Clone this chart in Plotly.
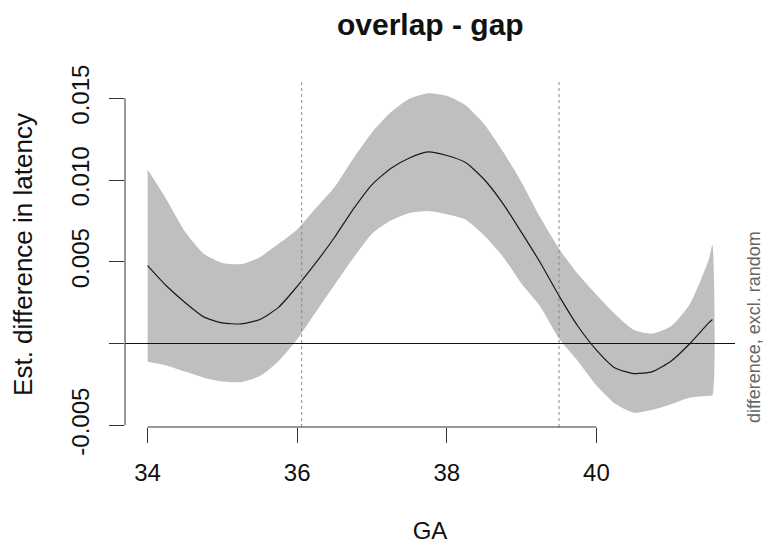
import plotly.graph_objects as go

# ---- data ----
ga = [34.00, 34.25, 34.50, 34.75, 35.00, 35.25, 35.50, 35.75, 36.00, 36.25,
      36.50, 36.75, 37.00, 37.25, 37.50, 37.75, 38.00, 38.25, 38.50, 38.75,
      39.00, 39.25, 39.50, 39.75, 40.00, 40.25, 40.50, 40.75, 41.00, 41.25,
      41.50, 41.55]
est_diff = [0.00476, 0.00353, 0.00251, 0.00163, 0.00126, 0.00120, 0.00147, 0.00221,
            0.00350, 0.00494, 0.00650, 0.00822, 0.00972, 0.01071, 0.01135, 0.01172,
            0.01150, 0.01107, 0.01003, 0.00856, 0.00678, 0.00494, 0.00291, 0.00107,
            -0.00040, -0.00150, -0.00184, -0.00172, -0.00107, 0.00000, 0.00126, 0.00147]
ci_upper = [0.01064, 0.00883, 0.00685, 0.00549, 0.00493, 0.00485, 0.00528, 0.00610,
            0.00698, 0.00828, 0.00957, 0.01132, 0.01291, 0.01414, 0.01497, 0.01531,
            0.01515, 0.01457, 0.01341, 0.01175, 0.00985, 0.00770, 0.00580, 0.00426,
            0.00298, 0.00179, 0.00083, 0.00061, 0.00107, 0.00242, 0.00512, 0.00604]
ci_lower = [-0.00112, -0.00134, -0.00172, -0.00209, -0.00232, -0.00236, -0.00199, -0.00108,
            0.00026, 0.00193, 0.00359, 0.00523, 0.00672, 0.00752, 0.00798, 0.00810,
            0.00790, 0.00758, 0.00660, 0.00531, 0.00365, 0.00225, 0.00030, -0.00107,
            -0.00257, -0.00369, -0.00423, -0.00405, -0.00371, -0.00331, -0.00319, -0.00316]
sig_bounds = [36.06, 39.50]

x_ticks = [34, 36, 38, 40]
y_ticks = [-0.005, 0.0, 0.005, 0.010, 0.015]
y_tick_labels = ["-0.005", "", "0.005", "0.010", "0.015"]

title_text = "overlap - gap"
x_title = "GA"
y_title = "Est. difference in latency"
side_note = "difference, excl. random"

FONT = "Liberation Sans, Arial, sans-serif"

fig = go.Figure()

# confidence band polygon
fig.add_trace(go.Scatter(
    x=ga + ga[::-1],
    y=ci_upper + ci_lower[::-1],
    fill="toself",
    fillcolor="#bfbfbf",
    line=dict(width=0, shape="spline", smoothing=0.6),
    mode="lines",
    hoverinfo="skip",
    showlegend=False,
))

# estimated difference
fig.add_trace(go.Scatter(
    x=ga, y=est_diff, mode="lines",
    line=dict(color="#1a1a1a", width=1.2, shape="spline", smoothing=0.6),
    showlegend=False,
))

# zero line
fig.add_shape(type="line", xref="paper", x0=0, x1=1, yref="y", y0=0, y1=0,
              line=dict(color="#111111", width=1))

# significance bounds (dotted)
for b in sig_bounds:
    fig.add_shape(type="line", xref="x", x0=b, x1=b, yref="paper", y0=0, y1=1,
                  line=dict(color="#888888", width=1, dash="dot"))

# R-style axis lines spanning first..last tick
fig.add_shape(type="line", xref="x", x0=min(x_ticks), x1=max(x_ticks),
              yref="paper", y0=0, y1=0, line=dict(color="#333333", width=1))
fig.add_shape(type="line", xref="paper", x0=0, x1=0,
              yref="y", y0=min(y_ticks), y1=max(y_ticks), line=dict(color="#333333", width=1))

fig.update_layout(
    width=765, height=549,
    margin=dict(l=125, r=30, t=82, b=122),
    paper_bgcolor="white", plot_bgcolor="white",
    font=dict(family=FONT, size=24, color="#111111"),
    title=dict(text="<b>" + title_text + "</b>", x=0.5625, xanchor="center",
               y=0.956, yanchor="middle", font=dict(size=30, family=FONT, color="#111111")),
    xaxis=dict(range=[33.698, 41.852], tickvals=x_ticks, ticks="outside", ticklen=15,
               tickcolor="#333333", showline=False, showgrid=False, zeroline=False,
               automargin=False, ticklabelstandoff=9, tickfont=dict(size=24),
               title=dict(text=x_title, standoff=37, font=dict(size=24))),
    yaxis=dict(range=[-0.005107, 0.015994], tickvals=y_ticks, ticktext=y_tick_labels,
               tickangle=-90, ticks="outside", ticklen=15, tickcolor="#333333",
               showline=False, showgrid=False, zeroline=False, automargin=False,
               ticklabelstandoff=10, tickfont=dict(size=24),
               title=dict(text=y_title, standoff=27, font=dict(size=26))),
)

fig.add_annotation(text=side_note, xref="paper", yref="paper", x=1.0, y=0.29,
                   xanchor="center", yanchor="middle", xshift=19, textangle=-90,
                   showarrow=False,
                   font=dict(size=18, color="#666666", family=FONT))

fig.write_html("out.html", config={"displayModeBar": False},
               post_script="document.body.style.margin='0';document.body.style.padding='0';")
